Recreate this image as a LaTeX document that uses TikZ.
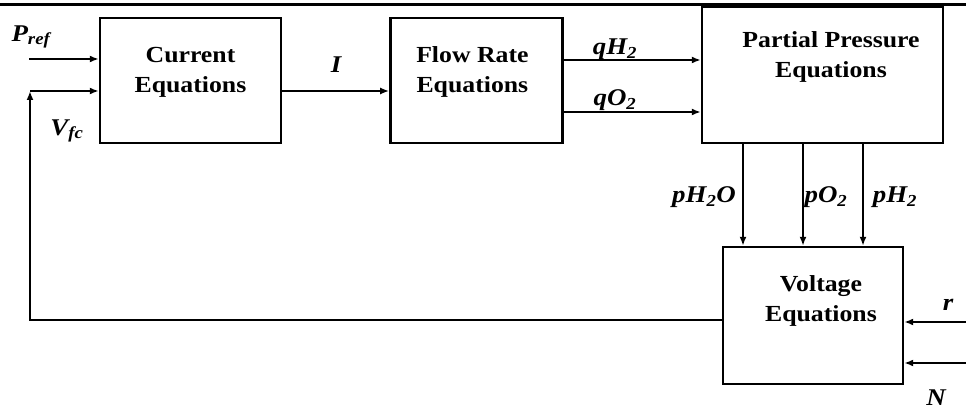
\documentclass[tikz,border=0pt]{standalone}
\usepackage{fontspec}
\setmainfont{Liberation Serif}[FakeStretch=1.12]
\usetikzlibrary{positioning,arrows.meta}
\newcommand{\eqfont}{\fontsize{23}{30}\selectfont\bfseries}
\newcommand{\varfont}{\fontsize{24}{28}\selectfont\bfseries\itshape}

\begin{document}
\begin{tikzpicture}[x=1pt, y=-1pt, line width=2.3pt, >={Latex[length=9pt,width=7pt]},
      blk/.style={draw, line width=2.4pt, inner sep=0pt},
      txt/.style={font=\eqfont, align=center},
      var/.style={font=\varfont, inner sep=0pt}]
    \useasboundingbox (0,0) rectangle (966,411);
    \draw[line width=3.5pt] (0,4.5) -- (966,4.5);
    % blocks
    \node[blk, minimum width=181pt, minimum height=125pt,
          label={[txt, yshift=8.5pt]center:Current\\Equations}] (cur) at (190.5,80.5) {};
    \node[blk, minimum width=172pt, minimum height=125pt, right=107pt of cur,
          label={[txt, xshift=-4pt, yshift=8.5pt]center:Flow Rate\\Equations}] (flow) {};
    \node[blk, minimum width=241pt, minimum height=136pt,
          label={[txt, xshift=8.5pt, yshift=18pt]center:Partial Pressure\\Equations}] (part) at (822.5,75) {};
    \node[blk, minimum width=180pt, minimum height=137pt,
          label={[txt, xshift=8pt, yshift=14.5pt]center:Voltage\\Equations}] (volt) at (813,315.5) {};
    % free ends
    \coordinate (pin) at (29,59);
    \coordinate (fb) at (30,91);
    \coordinate (rin) at (966,322);
    \coordinate (nin) at (966,363);
    % connectors
    \draw[->] (pin) -- (pin -| cur.west);
    \draw[->] ([yshift=-4.5pt]volt.west) -| (fb);
    \draw[->] (fb) -- (fb -| cur.west);
    \draw[->] ([yshift=-10.5pt]cur.east) -- ([yshift=-10.5pt]flow.west);
    \draw[->] ([yshift=20.5pt]flow.east) -- ([yshift=20.5pt]flow.east -| part.west);
    \draw[->] ([yshift=-31.5pt]flow.east) -- ([yshift=-31.5pt]flow.east -| part.west);
    \foreach \dx in {-79.5,-19.5,40.5}
      \draw[->] ([xshift=\dx pt]part.south) -- ([xshift=\dx pt]part.south |- volt.north);
    \draw[->] (rin) -- (rin -| volt.east);
    \draw[->] (nin) -- (nin -| volt.east);
    % signal names
    \node[var] (pref) at (31,37) {P\textsubscript{ref}};
    \node[var] (vfc) at (67,131) {V\textsubscript{fc}};
    \node[var] (icur) at (336,65) {I};
    \node[var] (qh) at (615,49) {qH\textsubscript{2}};
    \node[var] (qo) at (615,100) {qO\textsubscript{2}};
    \node[var] (ph2o) at (704,197) {pH\textsubscript{2}O};
    \node[var] (po) at (826,197) {pO\textsubscript{2}};
    \node[var] (ph) at (895,197) {pH\textsubscript{2}};
    \node[var] (rr) at (948,305) {r};
    \node[var] (nn) at (936,398) {N};
  \end{tikzpicture}
\end{document}
